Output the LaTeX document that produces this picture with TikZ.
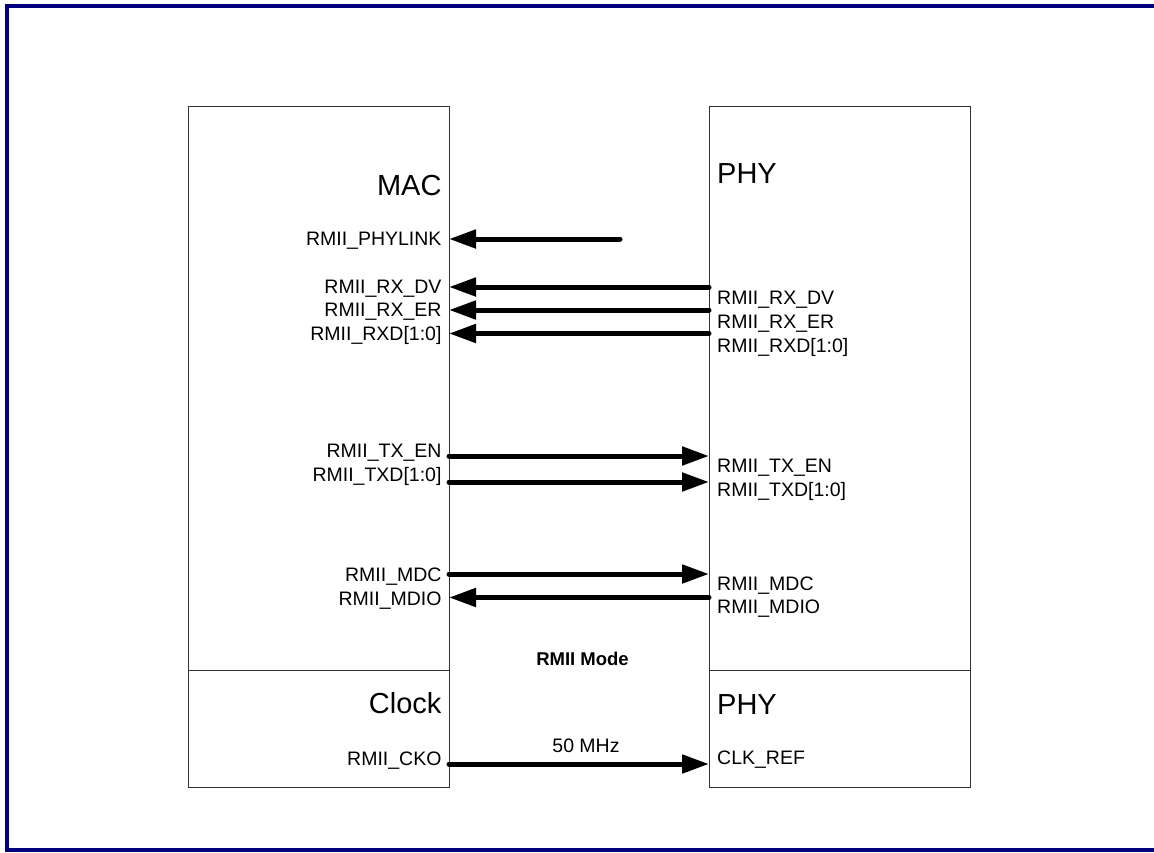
\documentclass[tikz,border=0pt]{standalone}
\usepackage{fontspec}
\setmainfont{Liberation Sans}
\usetikzlibrary{arrows.meta}
\definecolor{navyb}{HTML}{000080}
\definecolor{boxgray}{HTML}{333333}
\tikzset{
  blk/.style={draw=boxgray, line width=1.3pt, minimum width=261pt, inner sep=0pt, anchor=north west},
  lbl/.style={inner sep=0pt, font=\fontsize{19.5}{20}\selectfont},
  llbl/.style={lbl, anchor=base east},
  rlbl/.style={lbl, anchor=base west},
  title/.style={inner sep=0pt, font=\fontsize{29}{30}\selectfont},
  sig/.style={line width=5pt, line cap=round, -{Triangle[length=27pt,width=18pt]}}
}
\begin{document}
\begin{tikzpicture}[x=1pt,y=-1pt]
\useasboundingbox (0,0) rectangle (1154,852);
\draw[navyb, line width=4pt] (1154,6) -- (7,6) -- (7,850) -- (1154,850);
% boxes
\node[blk, minimum height=564pt] (mac) at (188,106) {};
\node[blk, minimum height=117pt] (clk) at (188,670) {};
\node[blk, minimum height=564pt] (phy) at (709,106) {};
\node[blk, minimum height=117pt] (phyb) at (709,670) {};
% titles
\node[title, anchor=base east] (tmac) at (441.7,195) {MAC};
\node[title, anchor=base west] (tphy) at (717,183) {PHY};
\node[title, anchor=base east] (tclk) at (441.7,713) {Clock};
\node[title, anchor=base west] (tphyb) at (717,714) {PHY};
% left labels
\node[llbl] (lphylink) at (441.7,245) {RMII\_PHYLINK};
\node[llbl] (lrxdv) at (441.7,293) {RMII\_RX\_DV};
\node[llbl] (lrxer) at (441.7,316) {RMII\_RX\_ER};
\node[llbl] (lrxd) at (441.7,340) {RMII\_RXD[1:0]};
\node[llbl] (ltxen) at (441.7,457) {RMII\_TX\_EN};
\node[llbl] (ltxd) at (441.7,481) {RMII\_TXD[1:0]};
\node[llbl] (lmdc) at (441.7,581) {RMII\_MDC};
\node[llbl] (lmdio) at (441.7,605) {RMII\_MDIO};
\node[llbl] (lcko) at (441.7,765) {RMII\_CKO};
% right labels
\node[rlbl] (rrxdv) at (717,304) {RMII\_RX\_DV};
\node[rlbl] (rrxer) at (717,328) {RMII\_RX\_ER};
\node[rlbl] (rrxd) at (717,352) {RMII\_RXD[1:0]};
\node[rlbl] (rtxen) at (717,472) {RMII\_TX\_EN};
\node[rlbl] (rtxd) at (717,496) {RMII\_TXD[1:0]};
\node[rlbl] (rmdc) at (717,590) {RMII\_MDC};
\node[rlbl] (rmdio) at (717,613) {RMII\_MDIO};
\node[rlbl] (rclk) at (717,764) {CLK\_REF};
% middle texts
\node[inner sep=0pt, anchor=base, font=\bfseries\fontsize{18.5}{20}\selectfont] (mode) at (582.5,665) {RMII Mode};
\node[lbl, anchor=base] (mhz) at (586,752) {50 MHz};
% connector end points
\coordinate (aphylink) at (449,239);
\coordinate (bphylink) at (620,239);
\coordinate (arxdv) at (449,287);
\coordinate (brxdv) at (709,287);
\coordinate (arxer) at (449,310);
\coordinate (brxer) at (709,310);
\coordinate (arxd) at (449,333.5);
\coordinate (brxd) at (709,333.5);
\coordinate (atxen) at (449,456);
\coordinate (btxen) at (709,456);
\coordinate (atxd) at (449,482);
\coordinate (btxd) at (709,482);
\coordinate (amdc) at (449,574);
\coordinate (bmdc) at (709,574);
\coordinate (amdio) at (449,597.5);
\coordinate (bmdio) at (709,597.5);
\coordinate (acko) at (449,764);
\coordinate (bcko) at (709,764);
% connectors
\draw[sig] (bphylink) -- (aphylink);
\draw[sig] (brxdv) -- (arxdv);
\draw[sig] (brxer) -- (arxer);
\draw[sig] (brxd) -- (arxd);
\draw[sig] (atxen) -- (btxen);
\draw[sig] (atxd) -- (btxd);
\draw[sig] (amdc) -- (bmdc);
\draw[sig] (bmdio) -- (amdio);
\draw[sig] (acko) -- (bcko);
\end{tikzpicture}
\end{document}
